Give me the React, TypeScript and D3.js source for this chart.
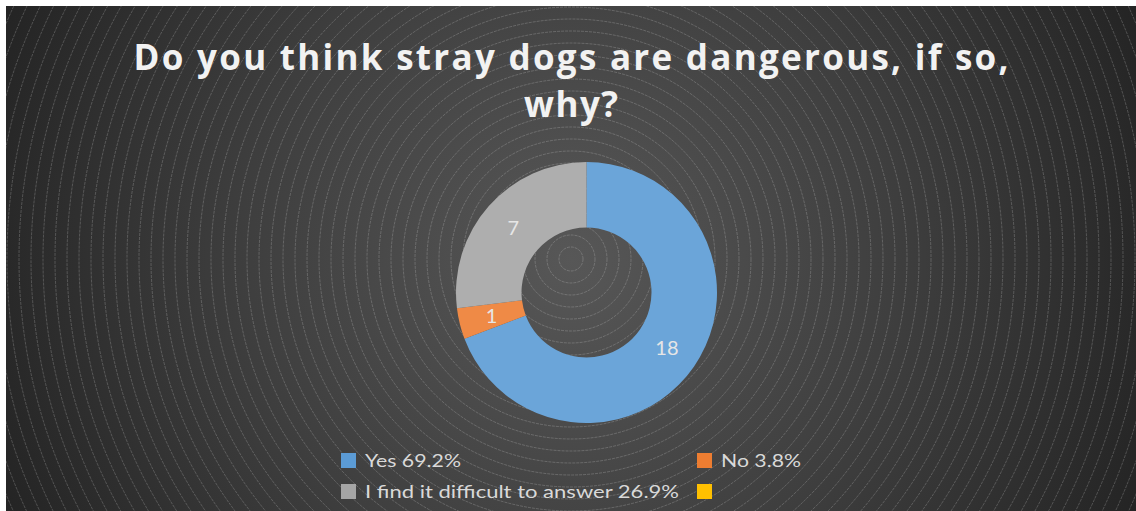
import React from "react";
import * as d3 from "d3";

const categories = ["Yes", "No", "I find it difficult to answer", ""];
const values = [18, 1, 7, 0];
const colors = ["#5B9BD5", "#ED7D31", "#A5A5A5", "#FFC000"];
const legendLabels = ["Yes 69.2%", "No 3.8%", "I find it difficult to answer 26.9%", ""];
const titleLines = ["Do you think stray dogs are dangerous, if so,", "why?"];

const W = 1136;
const H = 511;

export default function App() {
  const x0 = 6, y0 = 6;
  const cx = (x0 + W) / 2, cy = (y0 + H) / 2 + 0.5;
  const dcx = 586.5, dcy = 292.5;
  const rOuter = 130.5, rInner = 65;

  const pie = d3.pie<number>().sort(null).value((d) => d)(values);
  const arc = d3.arc<d3.PieArcDatum<number>>().innerRadius(rInner).outerRadius(rOuter);

  const rings = d3.range(12, 760, 12);

  const legendX = d3.scaleOrdinal<number, number>().domain([0, 1, 2, 3]).range([341, 697, 341, 697]);
  const legendY = d3.scaleOrdinal<number, number>().domain([0, 1, 2, 3]).range([453, 453, 484, 484]);
  const legendLens = [96, 80, 314, 0];

  return (
    <svg width={W} height={H} style={{ position: "absolute", left: 0, top: 0, display: "block" }}>
      <defs>
        <radialGradient id="bg" gradientUnits="userSpaceOnUse" cx={cx} cy={cy} r={640}>
          <stop offset="0" stopColor="#575757" />
          <stop offset="0.5" stopColor="#3f3f3f" />
          <stop offset="1" stopColor="#222222" />
        </radialGradient>
        {colors.map((c, i) => (
          <linearGradient key={i} id={`g${i}`} gradientUnits="userSpaceOnUse" x1={0} y1={dcy - rOuter} x2={0} y2={dcy + rOuter}>
            <stop offset="0" stopColor={d3.interpolateRgb(c, "#ffffff")(0.1)} />
            <stop offset="1" stopColor={d3.interpolateRgb(c, "#1a5fb5")(0.08)} />
          </linearGradient>
        ))}
      </defs>
      <rect x={0} y={0} width={W} height={H} fill="#ffffff" />
      <rect x={x0} y={y0} width={W - x0} height={H - y0} fill="url(#bg)" />
      <clipPath id="clip">
        <rect x={x0} y={y0} width={W - x0} height={H - y0} />
      </clipPath>
      <g clipPath="url(#clip)">
        {rings.map((r) => (
          <circle key={r} cx={cx} cy={cy} r={r} fill="none" stroke="#c8c8c8" strokeOpacity={0.38} strokeWidth={0.7} strokeDasharray="3 1" />
        ))}
      </g>
      {titleLines.map((t, i) => (
        <text
          key={i}
          x={cx}
          y={70 + i * 47}
          textAnchor="middle"
          fill="#f2f2f2"
          fontFamily="'Open Sans', Lato, sans-serif"
          fontWeight={700}
          fontSize={35}
          textLength={i === 0 ? 875 : 94}
          lengthAdjust="spacing"
        >
          {t}
        </text>
      ))}
      <g transform={`translate(${dcx},${dcy})`}>
        {pie.map((p, i) => (
          <path key={i} d={arc(p) || ""} fill={`url(#g${i})`} />
        ))}
        {pie.map((p, i) =>
          p.value > 0 ? (
            <text
              key={"l" + i}
              x={arc.centroid(p)[0]}
              y={arc.centroid(p)[1]}
              dy="0.36em"
              textAnchor="middle"
              fill="#e6e6e6"
              fontFamily="Lato, sans-serif"
              fontSize={20}
            >
              {p.value}
            </text>
          ) : null
        )}
      </g>
      {categories.map((c, i) => (
        <g key={"lg" + i}>
          <rect x={legendX(i)} y={legendY(i)} width={15} height={15} fill={colors[i]} />
          {legendLabels[i] ? (
            <text
              x={legendX(i) + 24}
              y={legendY(i) + 14}
              fill="#d9d9d9"
              fontFamily="Lato, sans-serif"
              fontSize={18}
              textLength={legendLens[i]}
              lengthAdjust="spacingAndGlyphs"
            >
              {legendLabels[i]}
            </text>
          ) : null}
        </g>
      ))}
    </svg>
  );
}
